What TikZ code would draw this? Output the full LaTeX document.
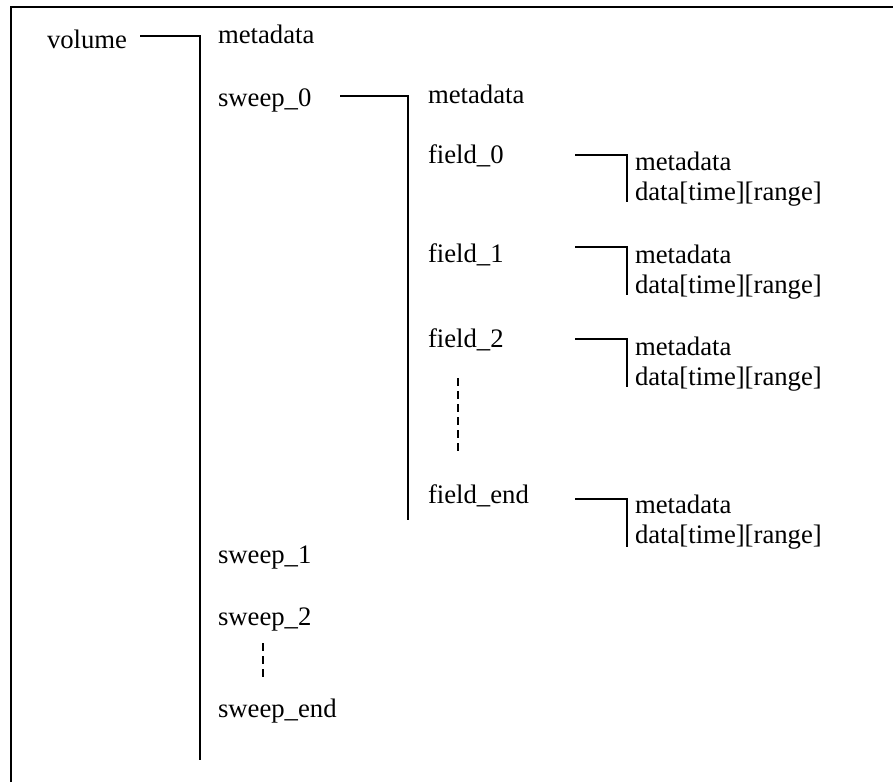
\documentclass[tikz,border=0pt]{standalone}
\usepackage{fontspec}
\setmainfont{Liberation Serif}
\begin{document}
\begin{tikzpicture}[x=1pt,y=-1pt,
  lbl/.style={anchor=base west,inner sep=0pt,outer sep=0pt,font=\fontsize{26.7}{32}\selectfont},
  conn/.style={draw=black,line width=1.6pt},
  dots/.style={draw=black,line width=1.5pt,dash pattern=on 8pt off 5pt},
  frame/.style={draw=black,line width=2pt}]
\path[use as bounding box] (0,0) rectangle (893,782);
% frame (right and bottom edges lie outside the picture)
\coordinate (fbl) at (11,782);
\coordinate (ftl) at (11,7);
\coordinate (ftr) at (893,7);
\draw[frame] (fbl) -- (ftl) -- (ftr);
% texts
\node[lbl] (volume) at (47,48) {volume};
\node[lbl] (md0) at (218,43) {metadata};
\node[lbl] (sweep0) at (218,106) {sweep\_0};
\node[lbl] (sweep1) at (218,563) {sweep\_1};
\node[lbl] (sweep2) at (218,625) {sweep\_2};
\node[lbl] (sweepend) at (218,717) {sweep\_end};
\node[lbl] (md1) at (428,103) {metadata};
\node[lbl] (field0) at (428,163) {field\_0};
\node[lbl] (field1) at (428,262) {field\_1};
\node[lbl] (field2) at (428,347) {field\_2};
\node[lbl] (fieldend) at (428,503) {field\_end};
\node[lbl] (f0md) at (635,170) {metadata};
\node[lbl] (f0dt) at (635,200) {data[time][range]};
\node[lbl] (f1md) at (635,263) {metadata};
\node[lbl] (f1dt) at (635,293) {data[time][range]};
\node[lbl] (f2md) at (635,355) {metadata};
\node[lbl] (f2dt) at (635,385) {data[time][range]};
\node[lbl] (femd) at (635,513) {metadata};
\node[lbl] (fedt) at (635,543) {data[time][range]};
% volume bracket
\coordinate (v1) at (140,36);
\coordinate (v2) at (200,36);
\coordinate (v3) at (200,760);
\draw[conn] (v1) -- (v2) -- (v3);
% sweep_0 bracket
\coordinate (s1) at (340,96);
\coordinate (s2) at (408,96);
\coordinate (s3) at (408,520);
\draw[conn] (s1) -- (s2) -- (s3);
% field brackets
\coordinate (a1) at (575,155);
\coordinate (a2) at (627,155);
\coordinate (a3) at (627,202);
\draw[conn] (a1) -- (a2) -- (a3);
\coordinate (b1) at (575,247);
\coordinate (b2) at (627,247);
\coordinate (b3) at (627,295);
\draw[conn] (b1) -- (b2) -- (b3);
\coordinate (c1) at (575,339);
\coordinate (c2) at (627,339);
\coordinate (c3) at (627,387);
\draw[conn] (c1) -- (c2) -- (c3);
\coordinate (e1) at (575,499);
\coordinate (e2) at (627,499);
\coordinate (e3) at (627,547);
\draw[conn] (e1) -- (e2) -- (e3);
% ellipsis dashes
\coordinate (d1) at (458,378);
\coordinate (d2) at (458,455);
\draw[dots] (d1) -- (d2);
\coordinate (g1) at (263,643);
\coordinate (g2) at (263,680);
\draw[dots] (g1) -- (g2);
\end{tikzpicture}
\end{document}
